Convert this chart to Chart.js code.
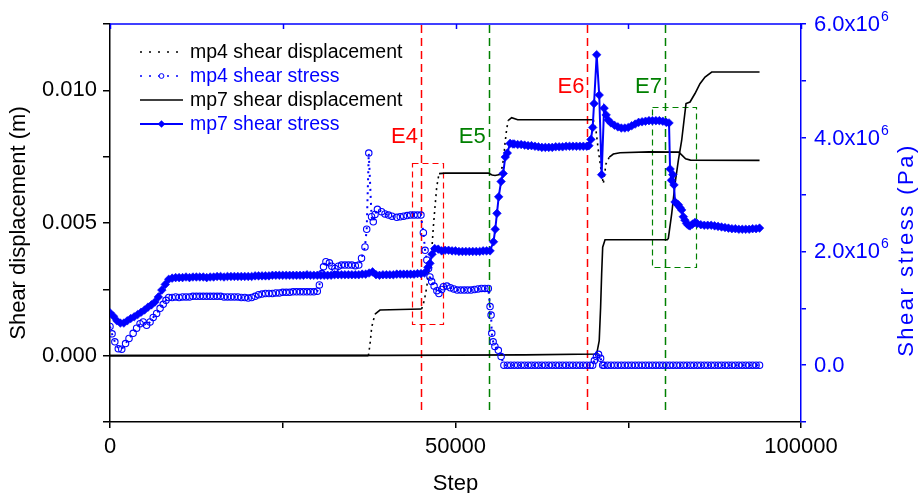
<!DOCTYPE html>
<html><head><meta charset="utf-8">
<script src="https://cdn.jsdelivr.net/npm/chart.js@4.4.1/dist/chart.umd.min.js"></script>
<style>html,body{margin:0;padding:0;background:#fff}#wrap{width:918px;height:493px}</style>
</head><body><div id="wrap"><canvas id="c" width="918" height="493"></canvas></div>
<script>
// ---------------- DATA ----------------
const stepTicks = [0, 25000, 50000, 75000, 100000];
const dispTickLabels = ['0.000', '0.005', '0.010'];
const stressTickValues = [0, 2e6, 4e6, 6e6];

const seriesNames = ['mp4 shear displacement', 'mp4 shear stress', 'mp7 shear displacement', 'mp7 shear stress'];

// mp4 shear displacement (m)
const mp4DispSteps = [0,37400,37630,37870,38350,39070,42000,45100,45490,45830,46160,46560,46790,47030,47280,47610,48500,54750,55300,55720,56440,56750,57000,57160,57410,57640,58130,59000,69940,70330,70670,71010,71390,71780,72260,72840,73810,78000,82300,82800,83300,84000,94000];
const mp4DispM = [0,0,0.00044,0.00107,0.00157,0.00172,0.00174,0.00176,0.00208,0.00258,0.00321,0.00396,0.00484,0.00560,0.00635,0.00686,0.00688,0.00688,0.00681,0.00679,0.00683,0.00710,0.00750,0.00799,0.00855,0.00887,0.00897,0.00889,0.00889,0.00849,0.00774,0.00710,0.00648,0.00723,0.00748,0.00760,0.00765,0.00768,0.00767,0.00755,0.00742,0.00737,0.00736];

// mp7 shear displacement (m)
const mp7DispSteps = [0,40000,60000,70430,70800,71000,71150,71300,71640,80650,80800,81290,81770,82250,82730,83070,83360,83940,84660,85380,86110,87080,94000];
const mp7DispM = [0,0.00001,0.00003,0.00006,0.00057,0.00182,0.00308,0.00409,0.00437,0.00437,0.00442,0.00535,0.00648,0.00736,0.00811,0.00887,0.00950,0.00956,0.00988,0.01025,0.01050,0.01069,0.01069];

// mp4 shear stress (MPa)
const mp4StressSteps = [
0,300,700,1200,1700,2250,2750,3350,3850,4350,
4800,5300,5800,6250,6750,7250,7700,8100,8500,
9000,9500,
10000,10500,11000,11500,12000,12500,13000,13500,14000,14500,
15000,15500,16000,16500,17000,17500,18000,18500,19000,19500,
20000,20500,21000,21500,22000,22500,23000,23500,24000,24500,
25000,25500,26000,26500,27000,27500,28000,28500,29000,29500,
30000,
30300,30650,30900,31250,31750,32100,32550,33050,33500,34000,
34500,35000,35500,36000,36400,36900,37150,37450,37850,38100,
38350,38700,39300,39800,40300,40800,41500,42000,42500,43000,
43500,44000,44500,45000,
45350,45600,45850,46100,46300,46550,46900,47300,47600,48000,
48250,48750,49250,49750,50250,50750,51250,51750,52250,52750,
53250,53750,54250,54750,
55000,55150,55250,55450,55700,56200,56600,57000,
57500,58000,58500,59000,59500,60000,60500,61000,61500,62000,
62500,63000,63500,64000,64500,65000,65500,66000,66500,67000,
67500,68000,68500,69000,69500,
69850,70100,70400,70700,71000,71300,
71500,72000,72500,73000,73500,74000,74500,75000,75500,76000,
76500,77000,77500,78000,78500,79000,79500,80000,80500,81000,
81500,82000,82500,83000,83500,84000,84500,85000,85500,86000,
86500,87000,87500,88000,88500,89000,89500,90000,90500,91000,
91500,92000,92500,93000,93500,94000];
const mp4StressMPa = [
0.68,0.55,0.41,0.29,0.28,0.38,0.47,0.56,0.65,0.73,
0.76,0.70,0.76,0.84,0.91,1.00,1.07,1.14,1.19,
1.19,1.20,
1.19,1.20,1.20,1.20,1.21,1.21,1.21,1.21,1.21,1.21,
1.21,1.21,1.21,1.20,1.20,1.20,1.20,1.20,1.19,1.19,
1.18,1.19,1.21,1.24,1.25,1.26,1.26,1.26,1.27,1.27,
1.28,1.28,1.28,1.29,1.29,1.29,1.29,1.29,1.29,1.29,
1.30,
1.41,1.61,1.73,1.82,1.80,1.74,1.70,1.74,1.76,1.76,
1.76,1.76,1.75,1.76,1.88,2.08,2.39,3.73,2.61,2.52,
2.65,2.74,2.70,2.66,2.64,2.62,2.60,2.61,2.62,2.63,
2.64,2.64,2.64,2.64,
2.33,2.02,1.85,1.70,1.55,1.47,1.39,1.31,1.26,1.33,
1.38,1.39,1.36,1.34,1.32,1.32,1.32,1.32,1.32,1.33,
1.34,1.35,1.35,1.35,
1.03,0.88,0.56,0.41,0.33,0.26,0.15,0.00,
0,0,0,0,0,0,0,0,0,0,
0,0,0,0,0,0,0,0,0,0,
0,0,0,0,0,
0.00,0.08,0.15,0.19,0.12,0.00,
0,0,0,0,0,0,0,0,0,0,
0,0,0,0,0,0,0,0,0,0,
0,0,0,0,0,0,0,0,0,0,
0,0,0,0,0,0,0,0,0,0,
0,0,0,0,0,0];

// mp7 shear stress (MPa)
const mp7StressSteps = [
0,500,1000,1500,2000,2500,3000,3500,4000,4500,
5000,5500,6000,6500,7000,7500,8000,8500,
9000,9500,
10000,10500,11000,11500,12000,12500,13000,13500,14000,14500,
15000,15500,16000,16500,17000,17500,18000,18500,19000,19500,
20000,20500,21000,21500,22000,22500,23000,23500,24000,24500,
25000,25500,26000,26500,27000,27500,28000,28500,29000,29500,
30000,30500,31000,31500,32000,32500,33000,33500,34000,34500,
35000,35500,36000,36500,37000,37500,38000,38500,39000,39500,
40000,40500,41000,41500,42000,42500,43000,43500,44000,44500,
45000,45500,46000,46300,46600,47000,47500,48000,
48500,49000,49500,50000,50500,51000,51500,52000,52500,53000,53500,54000,54500,55000,
55500,55750,56000,56250,56600,56900,57200,57500,57900,58300,
58500,59000,59500,60000,60500,61000,61500,62000,62500,63000,63500,64000,64500,65000,65500,66000,66500,67000,67500,68000,68500,69000,
69300,69600,69850,70050,70430,70800,71150,71500,71800,72100,72500,
73000,73500,74000,74500,75000,75500,76000,76500,77000,77500,78000,78500,79000,79500,80000,80500,
80900,81050,81250,81450,81620,81770,82000,82250,82500,82730,82970,83200,83450,83700,83940,84300,84660,
85000,85500,86000,86500,87000,87500,88000,88500,89000,89500,90000,90500,91000,91500,92000,92500,93000,93500,94000];
const mp7StressMPa = [
0.92,0.86,0.78,0.74,0.74,0.78,0.82,0.85,0.89,0.93,
0.97,1.02,1.06,1.11,1.20,1.32,1.42,1.51,
1.53,1.54,
1.54,1.54,1.55,1.54,1.55,1.55,1.55,1.55,1.54,1.55,
1.55,1.56,1.56,1.55,1.56,1.56,1.56,1.56,1.56,1.56,
1.56,1.56,1.57,1.57,1.57,1.57,1.57,1.58,1.58,1.58,
1.58,1.58,1.58,1.58,1.58,1.58,1.58,1.59,1.58,1.58,
1.58,1.58,1.58,1.58,1.58,1.59,1.59,1.59,1.59,1.59,
1.59,1.59,1.59,1.60,1.60,1.62,1.64,1.59,1.58,1.59,
1.59,1.59,1.59,1.60,1.60,1.60,1.60,1.60,1.60,1.61,
1.61,1.62,1.72,1.79,1.95,2.05,2.04,2.01,
2.02,2.02,2.01,2.01,2.00,2.00,2.00,2.00,2.00,2.00,2.00,2.01,2.01,2.01,
2.17,2.39,2.67,2.96,3.23,3.37,3.66,3.73,3.90,3.89,
3.89,3.88,3.88,3.87,3.86,3.86,3.85,3.84,3.83,3.83,3.83,3.83,3.84,3.84,3.84,3.85,3.85,3.85,3.85,3.85,3.85,3.85,
3.86,3.97,4.18,4.60,5.46,4.75,3.35,4.52,4.40,4.31,4.26,
4.22,4.19,4.17,4.17,4.18,4.21,4.24,4.27,4.28,4.29,4.30,4.30,4.30,4.30,4.29,4.27,
4.26,3.45,3.25,3.35,3.17,2.87,2.84,2.82,2.77,2.73,2.61,2.55,2.49,2.46,2.45,2.48,2.51,
2.49,2.47,2.46,2.46,2.46,2.45,2.44,2.43,2.42,2.41,2.40,2.40,2.39,2.39,2.39,2.39,2.40,2.40,2.41];

// events and highlighted windows
const eventNames = ['E4', 'E5', 'E6', 'E7'];
const eventSteps = [45000, 54800, 69100, 80300];
const eventLabelLevels = [0.0083, 0.0083, 0.0102, 0.0102]; // left-axis units
const boxStepRanges = [[43750, 48200], [78500, 84800]];
const boxDispRanges = [[0.00122, 0.00727], [0.00333, 0.00937]];

// ---------------- STYLE ----------------
const FONT = '"Liberation Sans", Arial, Helvetica, sans-serif';
const BLUE = '#0000ff';
const RED = '#ff0000';
const GREEN = '#008000';
const eventColors = [RED, GREEN, RED, GREEN];
const boxColors = [RED, GREEN];

function pts(xs, ys, k) { const n = Math.min(xs.length, ys.length); const o = []; for (let i = 0; i < n; i++) o.push({x: xs[i], y: ys[i] * k}); return o; }
const steepDash = d => ctx => (Math.abs(ctx.p1.y - ctx.p0.y) > 1.5 * Math.abs(ctx.p1.x - ctx.p0.x) ? d : undefined);

const overlay = {
  id: 'overlay',
  beforeDatasetsDraw(chart) {
    const {ctx, chartArea: a, scales: {x, y}} = chart;
    ctx.save();
    ctx.lineWidth = 1.5;
    eventSteps.forEach((s, i) => {
      const px = Math.round(x.getPixelForValue(s)) + 0.5;
      ctx.strokeStyle = eventColors[i];
      ctx.setLineDash([8, 5]);
      ctx.beginPath(); ctx.moveTo(px, a.top + 1); ctx.lineTo(px, a.bottom - 8); ctx.stroke();
    });
    ctx.lineWidth = 1.2;
    boxStepRanges.forEach((r, i) => {
      const x0 = x.getPixelForValue(r[0]), x1 = x.getPixelForValue(r[1]);
      const y0 = y.getPixelForValue(boxDispRanges[i][1]), y1 = y.getPixelForValue(boxDispRanges[i][0]);
      ctx.strokeStyle = boxColors[i];
      ctx.setLineDash([6, 4]);
      ctx.strokeRect(Math.round(x0) + 0.5, Math.round(y0) + 0.5, Math.round(x1 - x0), Math.round(y1 - y0));
    });
    ctx.restore();
  },
  afterDraw(chart) {
    const {ctx, chartArea: a, scales: {x, y, y2}} = chart;
    ctx.save();
    ctx.setLineDash([]);
    // top frame (blue) with inward ticks
    ctx.strokeStyle = BLUE; ctx.lineWidth = 1.5;
    ctx.beginPath(); ctx.moveTo(a.left, a.top); ctx.lineTo(a.right + 1, a.top); ctx.stroke();
    x.ticks.forEach(t => {
      const px = Math.round(x.getPixelForValue(t.value)) + 0.5;
      ctx.beginPath(); ctx.moveTo(px, a.top); ctx.lineTo(px, a.top + 5); ctx.stroke();
    });
    // event labels
    ctx.font = '22px ' + FONT; ctx.textAlign = 'right'; ctx.textBaseline = 'alphabetic';
    eventNames.forEach((n, i) => {
      ctx.fillStyle = eventColors[i];
      ctx.fillText(n, x.getPixelForValue(eventSteps[i]) - 3, y.getPixelForValue(eventLabelLevels[i]) + 8);
    });
    // right tick labels with superscript
    ctx.fillStyle = BLUE; ctx.textAlign = 'left'; ctx.textBaseline = 'middle';
    stressTickValues.forEach(v => {
      const py = y2.getPixelForValue(v);
      const main = v === 0 ? '0.0' : (v / 1e6).toFixed(1) + 'x10';
      ctx.font = '22px ' + FONT;
      ctx.fillText(main, a.right + 13, py + 1);
      if (v !== 0) {
        const w = ctx.measureText(main).width;
        ctx.font = '14px ' + FONT;
        ctx.fillText('6', a.right + 13 + w + 1, py - 7);
      }
    });
    // axis titles
    ctx.font = '22px ' + FONT; ctx.textAlign = 'center'; ctx.textBaseline = 'middle';
    ctx.fillStyle = '#000';
    ctx.fillText('Step', (a.left + a.right) / 2, 484);
    ctx.save(); ctx.translate(19, (a.top + a.bottom) / 2); ctx.rotate(-Math.PI / 2);
    ctx.fillText('Shear displacement (m)', 0, 0); ctx.restore();
    ctx.save(); ctx.fillStyle = BLUE; ctx.font = '22px ' + FONT;
    if ('letterSpacing' in ctx) ctx.letterSpacing = '2.5px';
    ctx.translate(907, 250); ctx.rotate(-Math.PI / 2);
    ctx.fillText('Shear stress (Pa)', 0, 0); ctx.restore();
    // legend
    const lx0 = 140, lx1 = 183, ly0 = 52, dy = 24;
    ctx.font = '19.5px ' + FONT; ctx.textAlign = 'left'; ctx.textBaseline = 'middle';
    seriesNames.forEach((name, i) => {
      const ly = ly0 + i * dy;
      const col = (i % 2 === 0) ? '#000' : BLUE;
      ctx.strokeStyle = col; ctx.fillStyle = col;
      ctx.lineWidth = i === 3 ? 2 : 1.6;
      ctx.setLineDash(i < 2 ? [2, 7] : []);
      ctx.beginPath(); ctx.moveTo(lx0, ly); ctx.lineTo(lx1, ly); ctx.stroke();
      ctx.setLineDash([]);
      const cx = (lx0 + lx1) / 2;
      if (i === 1) { ctx.lineWidth = 1; ctx.fillStyle = '#fff'; ctx.beginPath(); ctx.arc(cx, ly, 2.4, 0, Math.PI * 2); ctx.fill(); ctx.stroke(); }
      if (i === 3) { ctx.beginPath(); ctx.moveTo(cx, ly - 3.8); ctx.lineTo(cx + 3.8, ly); ctx.lineTo(cx, ly + 3.8); ctx.lineTo(cx - 3.8, ly); ctx.closePath(); ctx.fill(); }
      ctx.fillStyle = col;
      ctx.fillText(name, 190, ly + 1);
    });
    ctx.restore();
  }
};

new Chart(document.getElementById('c'), {
  type: 'line',
  data: {
    datasets: [
      { label: seriesNames[3], data: pts(mp7StressSteps, mp7StressMPa, 1e6), yAxisID: 'y2',
        borderColor: BLUE, borderWidth: 2, pointStyle: 'rectRot', pointRadius: 4.3,
        pointBackgroundColor: BLUE, pointBorderColor: BLUE, pointBorderWidth: 0.6, order: 1 },
      { label: seriesNames[1], data: pts(mp4StressSteps, mp4StressMPa, 1e6), yAxisID: 'y2',
        borderColor: BLUE, borderWidth: 2, borderDash: [2, 5], pointStyle: 'circle', pointRadius: 3.2,
        pointBackgroundColor: 'rgba(0,0,0,0)', pointBorderColor: BLUE, pointBorderWidth: 1.1, order: 2 },
      { label: seriesNames[2], data: pts(mp7DispSteps, mp7DispM, 1), yAxisID: 'y',
        borderColor: '#000', borderWidth: 1.6, pointRadius: 0, order: 3 },
      { label: seriesNames[0], data: pts(mp4DispSteps, mp4DispM, 1), yAxisID: 'y',
        borderColor: '#000', borderWidth: 1.6, pointRadius: 0, borderDash: [],
        segment: { borderDash: steepDash([2, 4]) }, order: 4 }
    ]
  },
  options: {
    responsive: false, animation: false, devicePixelRatio: 1, events: [],
    layout: { padding: { top: 24, left: 0, right: 0, bottom: 0 } },
    plugins: { legend: { display: false }, tooltip: { enabled: false } },
    scales: {
      x: { type: 'linear', position: 'bottom', min: 0, max: 100000,
        afterBuildTicks: s => { s.ticks = stepTicks.map(v => ({value: v})); },
        ticks: { callback: v => (v % 50000 === 0 ? String(v) : ''), autoSkip: false, maxRotation: 0,
          font: { family: FONT, size: 22 }, color: '#000', padding: 6 },
        grid: { drawOnChartArea: false, drawTicks: true, tickLength: 6, color: '#000', lineWidth: 1.5 },
        border: { display: true, color: '#000', width: 1.5 },
        afterFit: s => { s.height = 71; } },
      y: { type: 'linear', position: 'left', min: -0.0025, max: 0.0125,
        ticks: { stepSize: 0.0025, autoSkip: false,
          callback: v => { const k = Math.round(v / 0.0025); return (k >= 0 && k % 2 === 0 && k / 2 < dispTickLabels.length) ? dispTickLabels[k / 2] : ''; },
          font: { family: FONT, size: 22 }, color: '#000', padding: 6 },
        grid: { drawOnChartArea: false, drawTicks: true, tickLength: 7, color: '#000', lineWidth: 1.5 },
        border: { display: true, color: '#000', width: 1.5 },
        afterFit: s => { s.width = 110; } },
      y2: { type: 'linear', position: 'right', min: -1e6, max: 6e6,
        ticks: { stepSize: 1e6, autoSkip: false, callback: () => '', font: { family: FONT, size: 22 } },
        grid: { drawOnChartArea: false, drawTicks: true, tickLength: 5, color: BLUE, lineWidth: 1.5 },
        border: { display: true, color: BLUE, width: 1.5 },
        afterFit: s => { s.width = 117; } }
    }
  },
  plugins: [overlay]
});
</script></body></html>
